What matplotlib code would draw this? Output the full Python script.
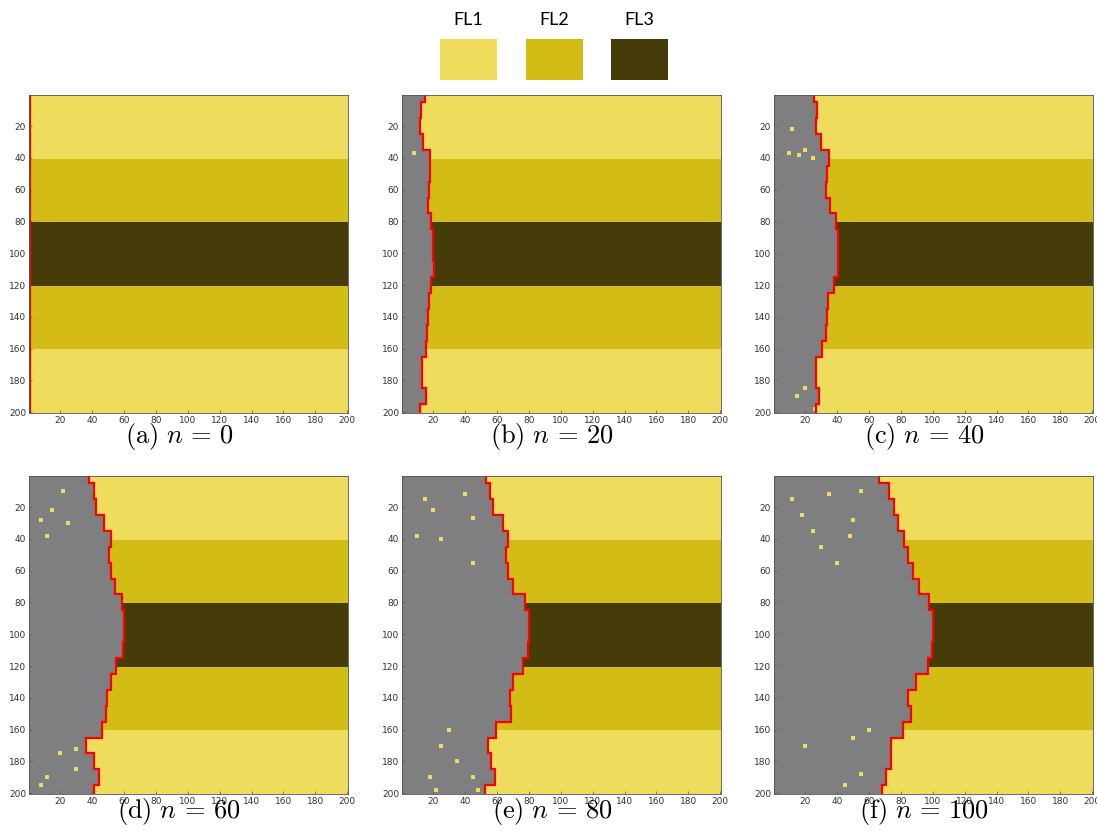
import numpy as np
import matplotlib
matplotlib.use('Agg')
import matplotlib.pyplot as plt
from matplotlib.patches import Rectangle

plt.rcParams['mathtext.fontset'] = 'cm'

# fuel layers (rows of the 200x200 grid)
layer_names = ['FL1', 'FL2', 'FL3']
layer_colors = ['#EFDB5C', '#D4BC16', '#463C0A']
band_edges = [0, 40, 80, 120, 160, 200]
band_layer = [0, 1, 2, 1, 0]
burnt_color = '#7F7F81'
front_color = '#FF0000'

# fire front column, sampled every 10 rows (row 0 .. 200)
rows = np.arange(0, 201, 10)
front = {
    0:   [1] * 21,
    20:  [14.7, 12.6, 11.5, 13.6, 17.8, 17.8, 17.4, 16.8, 18.8, 19.9, 19.9,
          20.3, 18.8, 17.4, 16.8, 16.1, 15.7, 13.2, 13.2, 15.7, 11.5],
    40:  [25.6, 27.7, 26.6, 29.8, 35.0, 34.0, 33.3, 35.4, 39.2, 40.9, 40.9,
          40.9, 38.2, 34.6, 34.0, 33.3, 30.8, 26.6, 27.0, 28.7, 26.6],
    60:  [38.0, 41.3, 42.3, 47.6, 51.8, 50.7, 51.8, 54.5, 58.7, 60.2, 60.2,
          59.5, 54.9, 51.8, 49.7, 48.6, 46.5, 36.0, 41.3, 44.4, 41.3],
    80:  [53.4, 55.5, 57.6, 63.9, 67.0, 66.0, 67.0, 70.2, 77.5, 80.2, 80.2,
          79.6, 76.4, 70.2, 68.0, 69.0, 59.7, 54.5, 56.5, 58.6, 52.4],
    100: [66.5, 72.7, 75.9, 78.0, 82.2, 84.3, 87.4, 91.6, 97.9, 100.0, 100.0,
          99.6, 96.9, 89.5, 84.3, 86.4, 81.1, 73.8, 73.8, 70.6, 68.5],
}

# unburnt specks left inside the burnt area (column, row)
specks = {
    0: [],
    20: [(8, 37)],
    40: [(10, 37), (16, 38), (20, 35), (25, 40), (12, 22), (20, 185), (26, 198), (15, 190)],
    60: [(12, 38), (15, 22), (22, 10), (8, 28), (25, 30), (12, 190), (8, 195),
         (30, 185), (20, 175), (30, 172)],
    80: [(15, 15), (20, 22), (25, 40), (10, 38), (40, 12), (45, 27), (45, 55), (30, 160),
         (25, 170), (18, 190), (45, 190), (48, 198), (35, 180), (22, 198)],
    100: [(12, 15), (18, 25), (25, 35), (35, 12), (50, 28), (55, 10), (40, 55), (30, 45),
          (20, 170), (50, 165), (55, 188), (45, 195), (60, 160), (48, 38)],
}
steps = [0, 20, 40, 60, 80, 100]
letters = ['a', 'b', 'c', 'd', 'e', 'f']

fig = plt.figure(figsize=(10.97, 8.33), dpi=100)

lefts = [29, 402, 774]
tops = [95, 476]
cap_off = [-0.074, -0.056]
w_px, h_px = 319, 318

# fuel band image
grid = np.zeros((200, 200, 3))
for k in range(len(band_layer)):
    c = matplotlib.colors.to_rgb(layer_colors[band_layer[k]])
    grid[band_edges[k]:band_edges[k + 1], :] = c

edges = np.arange(-5, 206, 10)

for i, n in enumerate(steps):
    r, col = divmod(i, 3)
    ax = fig.add_axes([lefts[col] / 1097, 1 - (tops[r] + h_px) / 833, w_px / 1097, h_px / 833])
    ax.imshow(grid, extent=(0.5, 200.5, 200.5, 0.5), aspect='auto', interpolation='nearest')
    f = np.array(front[n])
    if n > 0:
        ax.stairs(f, edges, orientation='horizontal', baseline=0.5, fill=True, color=burnt_color)
    if specks[n]:
        sx, sy = zip(*specks[n])
        ax.scatter(sx, sy, s=6, marker='s', color=layer_colors[0], linewidths=0)
    ax.stairs(f, edges, orientation='horizontal', baseline=None, color=front_color, lw=1.6)
    ax.set_xlim(0.5, 200.5)
    ax.set_ylim(200.5, 0.5)
    ax.set_xticks(range(20, 201, 20))
    ax.set_yticks(range(20, 201, 20))
    ax.tick_params(labelsize=6.5, labelcolor='#333333', direction='in', length=2,
                   width=0.5, color='#555555', pad=2)
    for s in ax.spines.values():
        s.set_linewidth(0.6)
        s.set_color('#555555')
    ax.text(0.47, cap_off[r], r'$\mathrm{(%s)}\ n\,=\,%d$' % (letters[i], n),
            transform=ax.transAxes, ha='center', va='center', fontsize=19)

# legend swatches
sw_left = [440, 526, 611]
for name, c, x0 in zip(layer_names, layer_colors, sw_left):
    fig.patches.append(Rectangle((x0 / 1097, 1 - 80 / 833), 57 / 1097, 41 / 833,
                                 transform=fig.transFigure, facecolor=c, edgecolor='none'))
    fig.text((x0 + 28.5) / 1097, 1 - 20 / 833, name, ha='center', va='center',
             fontsize=13, family='Lato')

fig.savefig('out.png', dpi=100)
